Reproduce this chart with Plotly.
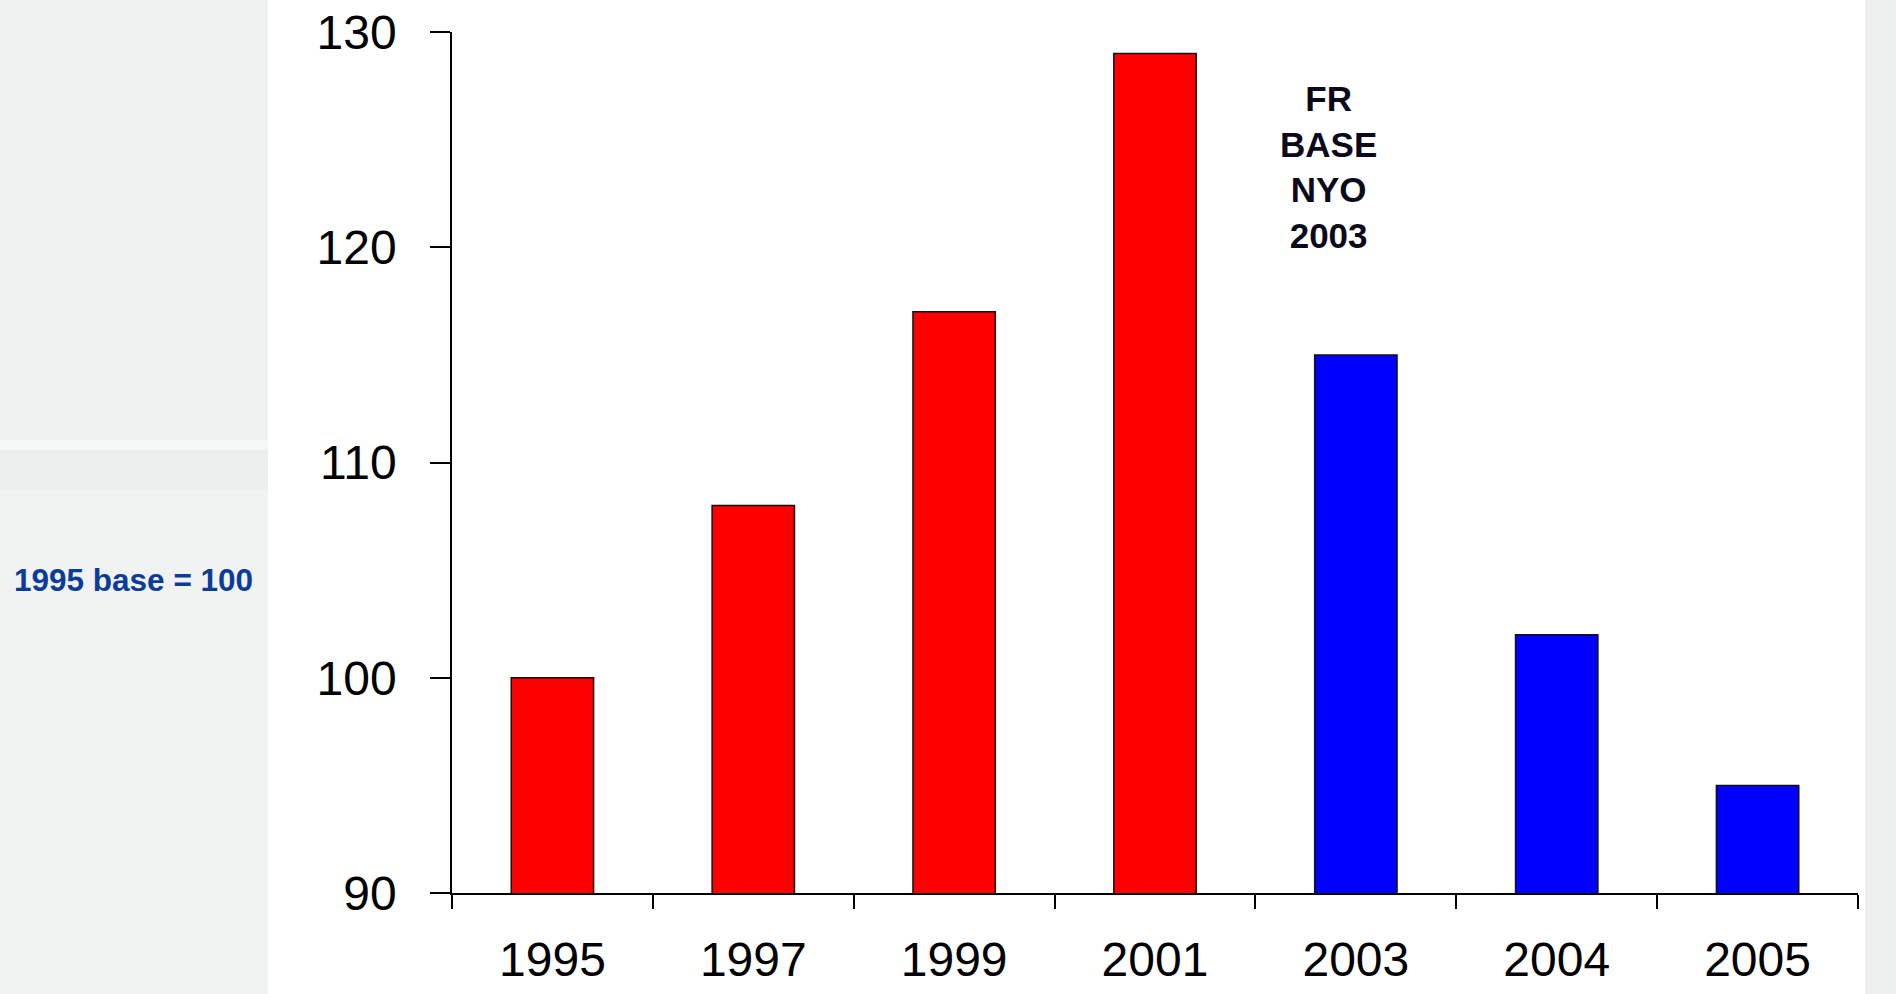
import plotly.graph_objects as go

# Index values by year (1995 = 100)
years = ["1995", "1997", "1999", "2001", "2003", "2004", "2005"]
index_values = [100, 108, 117, 129, 115, 102, 95]
bar_colors = ["#ff0000", "#ff0000", "#ff0000", "#ff0000", "#0000ff", "#0000ff", "#0000ff"]

y_ticks = [90, 100, 110, 120, 130]
note_text = "FR<br>BASE<br>NYO<br>2003"
base_text = "1995 base = 100"

W, H = 1896, 994
L, R, T, B = 452, 38, 32, 101
plot_w = W - L - R
plot_h = H - T - B
FONT = "Liberation Sans, Arial, sans-serif"


def px_rect(x0, x1, y0, y1, color):
    """Rectangle given in page pixels, drawn behind the plot."""
    return dict(type="rect", xref="paper", yref="paper",
                x0=(x0 - L) / plot_w, x1=(x1 - L) / plot_w,
                y0=(H - B - y1) / plot_h, y1=(H - B - y0) / plot_h,
                fillcolor=color, line=dict(width=0), layer="below")


fig = go.Figure()
fig.add_trace(go.Bar(
    x=years,
    y=index_values,
    marker=dict(color=bar_colors, line=dict(color="#111111", width=1.5)),
    hoverinfo="x+y",
))

# light backdrop with a white panel behind the chart
shapes = [
    px_rect(-20, 268, -20, 440, "#eff1f1"),
    px_rect(-20, 268, 440, 450, "#f5f6f6"),
    px_rect(-20, 268, 450, 490, "#eceeee"),
    px_rect(-20, 268, 490, 1020, "#f1f2f2"),
    px_rect(1865, W + 20, -20, 1020, "#eef0f0"),
    px_rect(268, 1865, -20, 1020, "#ffffff"),
]

fig.update_layout(
    width=W, height=H, autosize=False,
    margin=dict(l=L, r=R, t=T, b=B, pad=0),
    paper_bgcolor="#eff1f1",
    plot_bgcolor="rgba(0,0,0,0)",
    showlegend=False,
    bargap=0.59,
    font=dict(family=FONT, color="#000000"),
    shapes=shapes,
    xaxis=dict(
        type="category",
        automargin=False,
        showline=True, linecolor="#000000", linewidth=1.5,
        ticks="outside", ticklen=14, tickwidth=1.5, tickcolor="#000000",
        tickson="boundaries",
        showgrid=False, zeroline=False,
        tickfont=dict(size=48, family=FONT),
        ticklabelstandoff=24,
    ),
    yaxis=dict(
        range=[90, 130],
        automargin=False,
        tickvals=y_ticks,
        showline=True, linecolor="#000000", linewidth=1.5,
        ticks="outside", ticklen=20, tickwidth=1.5, tickcolor="#000000",
        showgrid=False, zeroline=False,
        tickfont=dict(size=48, family=FONT),
        ticklabelstandoff=24,
    ),
    annotations=[
        dict(text=note_text, xref="paper", yref="paper",
             x=(1328 - L) / plot_w, y=(H - B - 167) / plot_h,
             xanchor="center", yanchor="middle", showarrow=False, align="center",
             font=dict(size=35, family=FONT, color="#0a0a1a", weight="bold")),
        dict(text=base_text, xref="paper", yref="paper",
             x=(12 - L) / plot_w, y=(H - B - 580) / plot_h,
             xanchor="left", yanchor="middle", showarrow=False,
             font=dict(size=31.5, family=FONT, color="#0b3c97", weight="bold")),
    ],
)

fig.write_html("out.html")
